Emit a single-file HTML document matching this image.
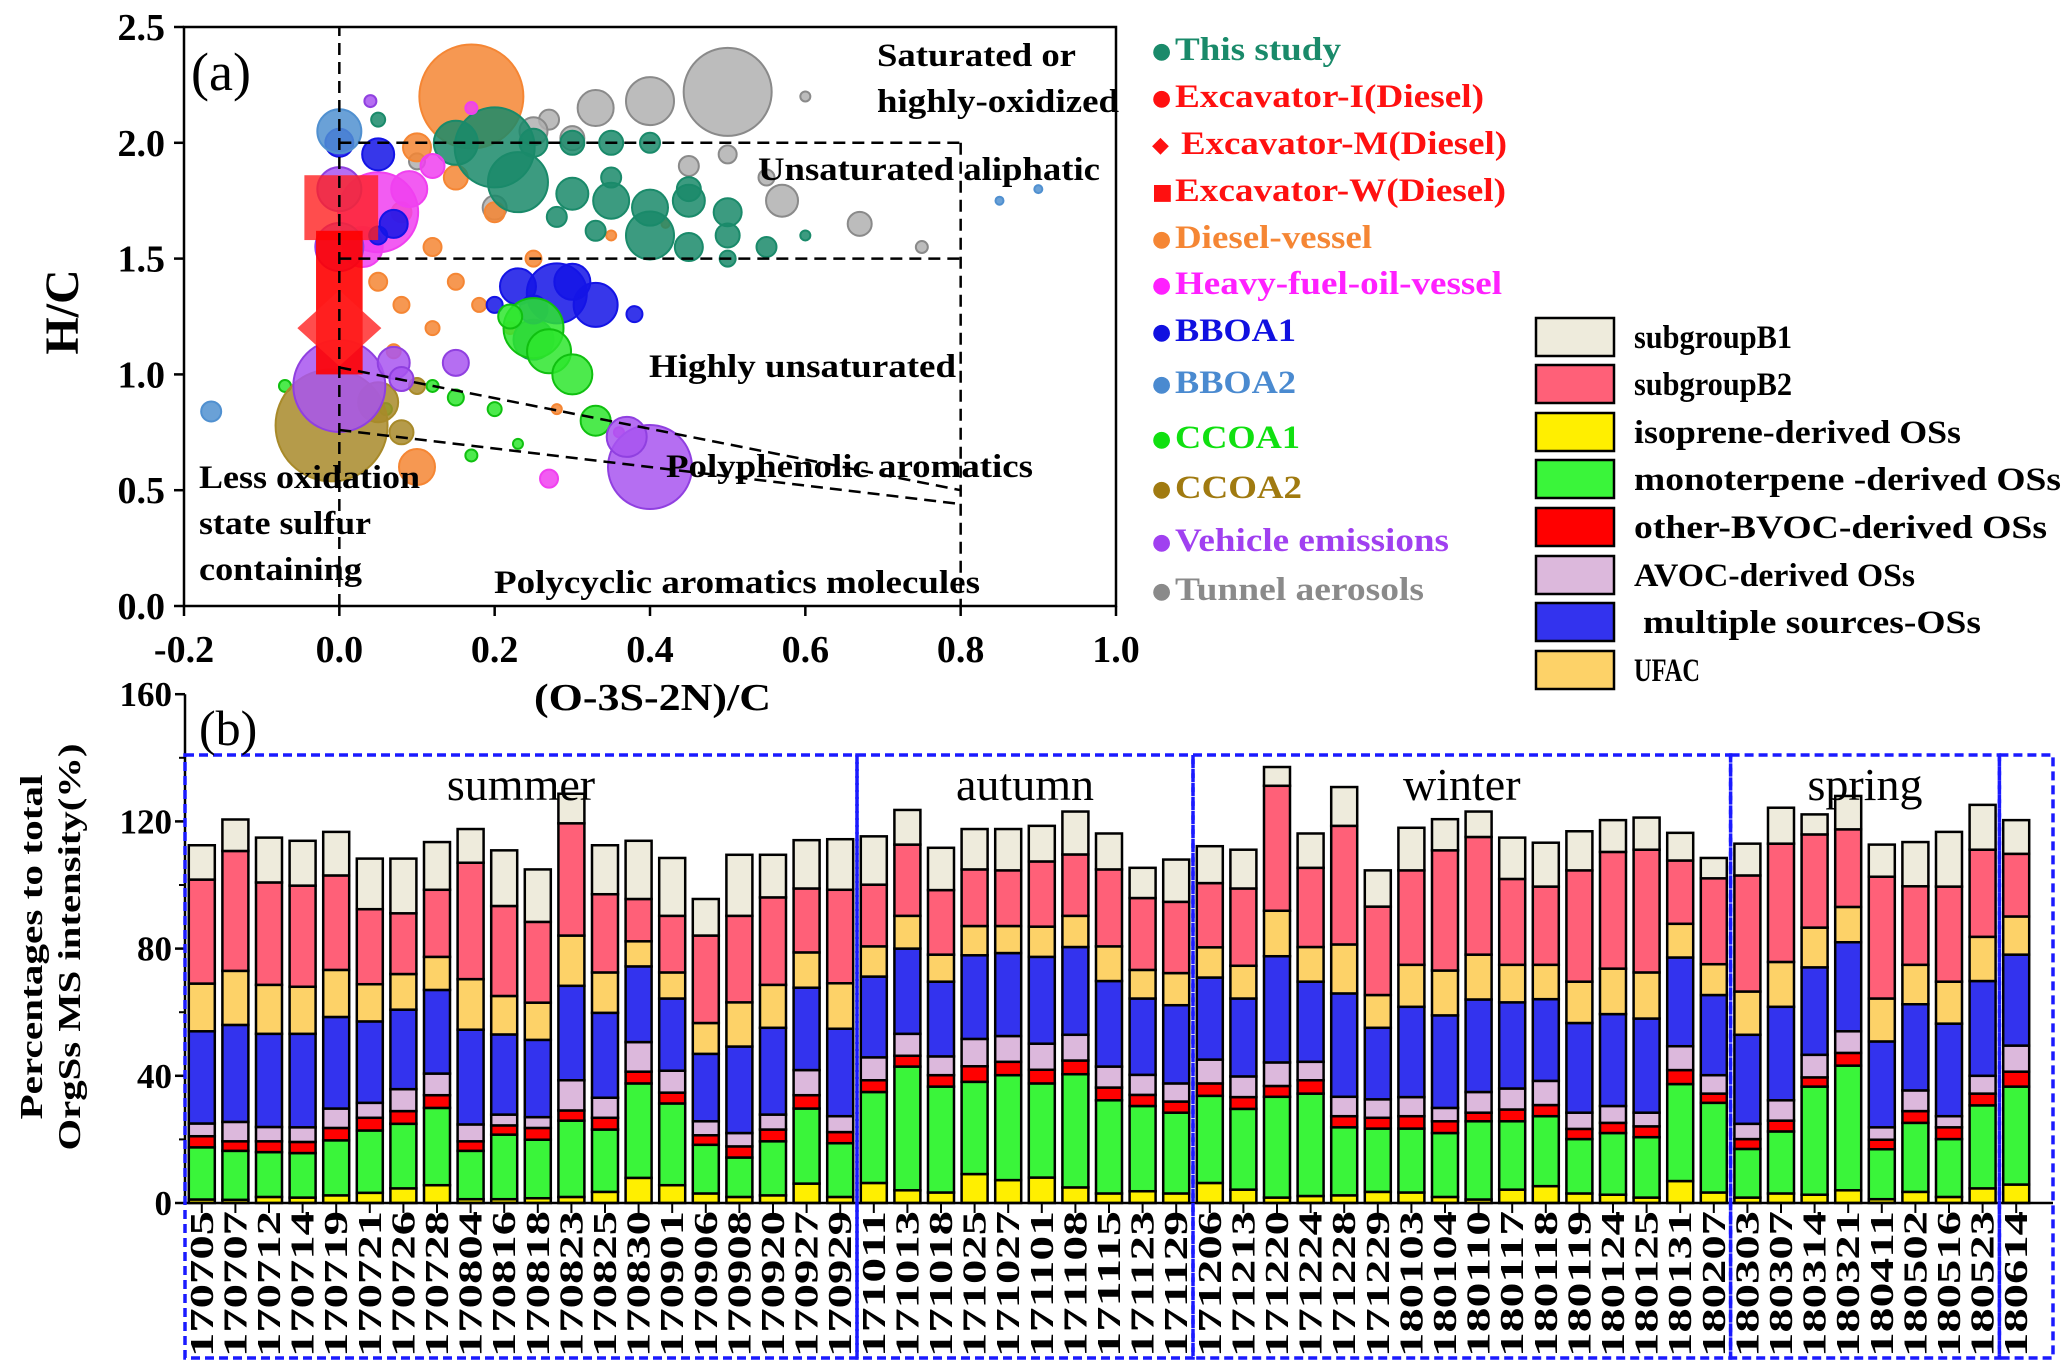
<!DOCTYPE html>
<html><head><meta charset="utf-8">
<style>
html,body{margin:0;padding:0;background:#fff;}
svg{display:block;font-family:"Liberation Serif",serif;}
</style></head>
<body>
<svg id="chart" width="2067" height="1366" viewBox="0 0 2067 1366" xmlns="http://www.w3.org/2000/svg">
<rect width="2067" height="1366" fill="#fff"/>
<g id="pa"></g>
<g id="pb"></g>
</svg>
<script>
// ---------- Panel b data ----------
const dates = ["170705","170707","170712","170714","170719","170721","170726","170728","170804","170816","170818","170823","170825","170830","170901","170906","170908","170920","170927","170929",
"171011","171013","171018","171025","171027","171101","171108","171115","171123","171129",
"171206","171213","171220","171224","171228","171229","180103","180104","180110","180117","180118","180119","180124","180125","180131","180207",
"180303","180307","180314","180321","180411","180502","180516","180523","180614"];
const isoprene = [1.1,1,1.9,1.7,2.4,3.2,4.6,5.6,1.2,1.2,1.5,1.9,3.5,7.9,5.6,3,1.9,2.4,6.1,1.9, 6.3,4,3.3,9.1,7.2,8,4.9,3,3.7,3, 6.3,4.2,1.7,2.2,2.4,3.5,3.3,1.9,1.1,4.2,5.3,3,2.6,1.7,6.9,3.3, 1.7,3,2.6,4,1.2,3.5,1.9,4.6,5.8];
const monoterpene = [16.4,15.4,14.1,14,17.3,19.6,20.3,24.3,15.2,20.3,18.4,24,19.6,29.7,25.7,15.3,12.4,17,23.6,16.9, 28.6,38.9,33.3,29,33,29.6,35.6,29.3,26.8,25.4, 27.4,25.4,31.7,32.2,21.4,19.9,20.1,20.1,24.6,21.5,22,17.1,19.4,19,30.5,28.2, 15.3,19.5,34,39.2,15.7,21.7,18.2,26.1,30.8];
const otherBVOC = [3.5,3,3.4,3.5,3.9,4,4,4,3,2.9,3.7,3.2,3.7,3.7,3.4,3,3.5,3.7,4.2,3.5, 3.7,3.4,3.6,4.9,4.2,4.3,4.3,4,3.5,3.5, 3.9,3.7,3.4,4.2,3.5,3.4,3.9,3.7,2.7,3.7,3.5,3.2,3.2,3.4,4.4,2.9, 3.1,3.4,2.9,4,3,3.7,3.7,3.7,4.7];
const avoc = [4,6.1,4.5,4.6,6.1,4.7,6.9,6.8,5.3,3.4,3.4,9.5,6.3,9.3,6.9,4.4,4.2,4.7,7.9,5, 7.2,6.9,5.9,8.6,8.1,8.2,8.1,6.6,6.3,5.7, 7.5,6.5,7.4,5.8,6.1,5.8,6,4.2,6.5,6.6,7.6,5.1,5.3,4.3,7.5,5.8, 4.8,6.4,7.1,6.8,3.9,6.5,3.5,5.6,8.2];
const multiple = [29,30.5,29.3,29.4,28.8,25.6,25,26.3,29.8,25.2,24.3,29.7,26.7,23.8,22.7,21.2,27.2,27.3,25.9,27.5, 25.4,26.8,23.5,26.3,26.1,27.3,27.6,26.9,24,24.6, 25.8,24.5,33.4,25.2,32.5,22.5,28.4,29.1,29.1,27.1,25.7,28.2,28.9,29.6,27.9,25.2, 28,29.4,27.5,28,27,27.1,29.1,29.8,28.6];
const ufac = [15,17,15.4,14.8,14.8,11.7,11.2,10.4,15.9,12.1,11.7,15.8,12.7,7.9,8.2,9.7,13.9,13.5,11.1,14.3, 9.5,10.3,8.5,9.2,8.5,9.5,9.8,10.9,9,10.1, 9.5,10.3,14.3,10.9,15.4,10.3,13.2,14.1,14.1,11.8,10.8,13,14.3,14.5,10.6,9.7, 13.6,14.1,12.5,11.1,13.5,12.4,13.2,13.9,12];
const subB2 = [32.7,37.7,32.2,31.8,29.7,23.6,19.1,21.1,36.6,28.3,25.4,35.3,24.6,13.3,17.8,27.5,27.2,27.5,20.1,29.4, 19.4,22.4,20.3,17.8,17.5,20.5,19.3,24.2,22.6,22.4, 20.2,24.3,39.3,24.9,37.3,27.8,29.7,37.8,37,27,24.6,35,36.7,38.6,19.9,27, 36.5,37.2,29.3,24.4,38.3,24.7,29.9,27.4,19.7];
const subB1 = [10.8,9.9,14.1,14.1,13.7,15.9,17.2,15,10.6,17.5,16.5,9.3,15.4,18.3,18.2,11.5,19.2,13.4,15.2,15.9, 15.2,10.9,13.3,12.7,13,11.2,13.5,11.3,9.5,13.3, 11.6,12.2,5.9,10.8,12.2,11.4,13.4,9.8,8,13,13.8,12.3,10,10.1,8.7,6.4, 10,11.3,6.3,10.5,10.1,13.9,17.2,14.1,10.6];
const yTicksB = [0,40,80,120,160];
const seasons = ["summer","autumn","winter","spring"];
const seasonStart = [0,20,30,46];
const seasonEnd = [20,30,46,54];

// ---------- Panel a data (x, y, radius px) ----------
const tunnelPts = [[0.5,2.22,44],[0.4,2.18,24],[0.33,2.15,18],[0.27,2.1,10],[0.25,2.05,14],[0.3,2.02,12],[0.5,1.95,9],[0.57,1.75,16],[0.67,1.65,12],[0.75,1.55,6],[0.2,1.72,12],[0.6,2.2,5],[0.55,1.85,8],[0.45,1.9,10],[0.1,1.92,8]];
const dieselPts = [[0.17,2.2,52],[0.1,1.98,14],[0.15,1.85,12],[0.2,1.7,10],[0.25,1.5,8],[0.08,1.7,10],[0.12,1.55,9],[0.15,1.4,8],[0.18,1.3,7],[0.22,1.2,6],[0.1,0.6,18],[0.05,1.4,9],[0.08,1.3,8],[0.12,1.2,7],[0.28,0.85,5],[0.35,1.6,5],[0.42,1.65,4],[0.07,1.1,7]];
const studyPts = [[0.2,1.98,40],[0.23,1.83,30],[0.15,2.0,22],[0.25,2.0,14],[0.3,2.0,12],[0.35,2.0,12],[0.4,2.0,10],[0.3,1.78,16],[0.35,1.75,18],[0.4,1.72,18],[0.45,1.75,16],[0.5,1.7,14],[0.4,1.6,24],[0.45,1.55,14],[0.5,1.6,12],[0.55,1.55,10],[0.33,1.62,10],[0.28,1.68,10],[0.5,1.5,8],[0.6,1.6,5],[0.25,1.15,20],[0.45,1.8,12],[0.05,2.1,7],[0.35,1.85,10]];
const bboa1Pts = [[0.28,1.35,30],[0.33,1.3,22],[0.23,1.38,18],[0.3,1.4,18],[0.25,1.28,14],[0.05,1.95,16],[0.07,1.65,14],[0.05,1.6,9],[0.38,1.26,8],[0,2.0,14],[0.2,1.3,8]];
const ccoa1Pts = [[0.25,1.2,30],[0.27,1.1,22],[0.3,1.0,20],[0.33,0.8,15],[0.22,1.25,12],[0.15,0.9,8],[0.2,0.85,7],[0.12,0.95,6],[-0.07,0.95,6],[0.06,0.85,6],[0.17,0.65,6],[0.23,0.7,5]];
const hfoPts = [[0.05,1.7,40],[0.03,1.55,20],[0.09,1.8,18],[0.12,1.9,12],[0.17,2.15,6],[0.27,0.55,9],[0.36,0.75,5]];
const vehiclePts = [[0.0,0.95,46],[0.4,0.6,42],[0.37,0.73,20],[0.07,1.05,16],[0.0,1.55,24],[0.0,1.8,22],[0.15,1.05,13],[0.08,0.98,12],[0.04,2.18,6]];
const ccoa2Pts = [[-0.01,0.78,56],[0.05,0.88,20],[0.1,0.95,8],[0.08,0.75,12]];
const bboa2Pts = [[-0.165,0.84,10],[0.0,2.05,22],[0.85,1.75,4],[0.9,1.8,4]];
const xTicksA = [-0.2,0,0.2,0.4,0.6,0.8,1.0];
const yTicksA = [0,0.5,1.0,1.5,2.0,2.5];

const NS = "http://www.w3.org/2000/svg";
function el(tag, attrs, parent, text){
  const e = document.createElementNS(NS, tag);
  for (const k in attrs) e.setAttribute(k, attrs[k]);
  if (text !== undefined) e.textContent = text;
  parent.appendChild(e);
  return e;
}
function fitW(t, w){ t.setAttribute('textLength', w); t.setAttribute('lengthAdjust','spacingAndGlyphs'); }
const pa = document.getElementById('pa');
const pb = document.getElementById('pb');

// ---------- Panel a ----------
const AX0=184, AX1=1116, AY0=606, AY1=27;
const ax = x => AX0 + (x+0.2)/1.2*(AX1-AX0);
const ay = y => AY0 - y/2.5*(AY0-AY1);

function drawSeries(pts, color, name, stroke){
  pts.forEach(p=>{
    const c = el('circle',{cx:ax(p[0]),cy:ay(p[1]),r:p[2],fill:color,'fill-opacity':0.85,stroke:stroke||color,'stroke-width':2},pa);
    
    
  });
}
drawSeries(tunnelPts,'#b0b0b0','tunnel-aerosols','#8a8a8a');
drawSeries(dieselPts,'#f58634','diesel-vessel');
drawSeries(studyPts,'#1a8a6a','this-study');
drawSeries(hfoPts,'#f040f0','heavy-fuel-oil-vessel');
drawSeries(bboa1Pts,'#1414e6','bboa1');
drawSeries(ccoa1Pts,'#2ee62e','ccoa1','#10c010');
drawSeries(ccoa2Pts,'#a88a2a','ccoa2');
drawSeries(vehiclePts,'#a855f0','vehicle-emissions','#9040e0');
drawSeries(bboa2Pts,'#5090d0','bboa2');
let ex = el('rect',{x:ax(-0.045),y:ay(1.86),width:ax(0.05)-ax(-0.045),height:ay(1.58)-ay(1.86),fill:'#ff2020','fill-opacity':0.8},pa);
 
ex = el('rect',{x:ax(-0.03),y:ay(1.62),width:ax(0.03)-ax(-0.03),height:ay(1.0)-ay(1.62),fill:'#ff0000','fill-opacity':0.9},pa);
 
const dcx=ax(0), dcy=ay(1.2);
ex = el('polygon',{points:`${dcx},${dcy-38} ${dcx+42},${dcy} ${dcx},${dcy+38} ${dcx-42},${dcy}`,fill:'#ff2020','fill-opacity':0.8},pa);
 

let fr = el('rect',{x:AX0,y:AY1,width:AX1-AX0,height:AY0-AY1,fill:'none',stroke:'#000','stroke-width':2.5},pa);
 
const dashes = [[0,0,0,2.5],[0,2.0,0.8,2.0],[0,1.5,0.8,1.5],[0.8,2.0,0.8,0],[0,1.03,0.8,0.5],[0,0.76,0.8,0.44]];
dashes.forEach((d,i)=>{
  const l = el('line',{x1:ax(d[0]),y1:ay(d[1]),x2:ax(d[2]),y2:ay(d[3]),stroke:'#000','stroke-width':2.5,'stroke-dasharray':'12,7'},pa);
  
  
});
xTicksA.forEach(v=>{
  el('line',{x1:ax(v),y1:AY0,x2:ax(v),y2:AY0+10,stroke:'#000','stroke-width':2.5},pa);
  const t = el('text',{x:ax(v),y:662,'text-anchor':'middle','font-size':38,'font-weight':'bold'},pa,v.toFixed(1));
   
});
yTicksA.forEach(v=>{
  el('line',{x1:AX0-10,y1:ay(v),x2:AX0,y2:ay(v),stroke:'#000','stroke-width':2.5},pa);
  const t = el('text',{x:165,y:ay(v)+13,'text-anchor':'end','font-size':38,'font-weight':'bold'},pa,v.toFixed(1));
   
});
let tt = el('text',{x:534,y:710,'font-size':38,'font-weight':'bold'},pa,'(O-3S-2N)/C');
 
fitW(tt,237);
tt = el('text',{x:0,y:0,'text-anchor':'middle','font-size':48,'font-weight':'bold',transform:'translate(78,312) rotate(-90)'},pa,'H/C');
 
const annos = [["Saturated or",877,66,199],["highly-oxidized",877,112,242],["Unsaturated aliphatic",758,180,342],["Highly unsaturated",649,377,307],["Polyphenolic aromatics",666,477,367],["Less oxidation",199,488,221],["state sulfur",199,534,172],["containing",199,580,163],["Polycyclic aromatics molecules",494,593,486]];
annos.forEach(a=>{
  const t = el('text',{x:a[1],y:a[2],'font-size':33,'font-weight':'bold'},pa,a[0]);
   
  fitW(t,a[3]);
});
tt = el('text',{x:191,y:90,'font-size':54},pa,'(a)');
 
const legA = [["●","This study","#1a8a6a"],["●","Excavator-I(Diesel)","#ff1010"],["◆","Excavator-M(Diesel)","#ff1010"],["■","Excavator-W(Diesel)","#ff1010"],["●","Diesel-vessel","#f58634"],["●","Heavy-fuel-oil-vessel","#ff20ff"],["●","BBOA1","#1010e0"],["●","BBOA2","#4a8ad0"],["●","CCOA1","#10e010"],["●","CCOA2","#a07a10"],["●","Vehicle emissions","#a040f0"],["●","Tunnel aerosols","#8a8a8a"]];
const legAW = [166,309,326,331,197,327,121,121,125,127,274,249];
const legAY = [49,96,143,190,237,283,330,382,437,487,540,589];
legA.forEach((l,i)=>{
  const d = el('text',{x:1152,y:legAY[i]+9,'font-size':22,'font-family':'DejaVu Sans',fill:l[2]},pa,l[0]);
   
  const t = el('text',{x:1175+(i==2?6:0),y:legAY[i]+11,'font-size':33,'font-weight':'bold',fill:l[2]},pa,l[1]);
   
  fitW(t,legAW[i]);
});

// ---------- Panel b ----------
const BY0=1203, BYU=3.18, BX0=185, BW=33.6;
const by = v => BY0 - v*BYU;
const bx = i => BX0 + (i+0.5)*BW;
const series = [isoprene, monoterpene, otherBVOC, avoc, multiple, ufac, subB2, subB1];
const colors = ['#ffef00','#3af53a','#ff0000','#dcb8dc','#3333ee','#fdd268','#ff6078','#eeebdc'];
const snames = ['isoprene','monoterpene','other-bvoc','avoc','multiple-sources','ufac','subgroup-b2','subgroup-b1'];
dates.forEach((d,i)=>{
  let cum = 0;
  series.forEach((s,k)=>{
    const v = s[i];
    const r = el('rect',{x:bx(i)-13,y:by(cum+v),width:26,height:v*BYU,fill:colors[k],stroke:'#000','stroke-width':2.5},pb);
    
    
    cum += v;
  });
  el('line',{x1:bx(i),y1:BY0,x2:bx(i),y2:BY0+10,stroke:'#000','stroke-width':2},pb);
  const t = el('text',{x:0,y:0,'text-anchor':'start','font-size':34,'font-weight':'bold',textLength:146,lengthAdjust:'spacingAndGlyphs',transform:`translate(${bx(i)+11},1357) rotate(-90)`},pb,d);
   
});
let axl = el('line',{x1:BX0,y1:BY0,x2:2053,y2:BY0,stroke:'#000','stroke-width':2.5},pb);
 
axl = el('line',{x1:BX0,y1:by(160),x2:BX0,y2:BY0,stroke:'#000','stroke-width':2.5},pb);
 
yTicksB.forEach(v=>{
  el('line',{x1:BX0-10,y1:by(v),x2:BX0,y2:by(v),stroke:'#000','stroke-width':2.5},pb);
  const t = el('text',{x:172,y:by(v)+12,'text-anchor':'end','font-size':35,'font-weight':'bold'},pb,String(v));
   
});
[20,60,100,140].forEach(v=>el('line',{x1:BX0-6,y1:by(v),x2:BX0,y2:by(v),stroke:'#000','stroke-width':2},pb));
seasons.forEach((s,k)=>{
  const x1 = BX0 + seasonStart[k]*BW, x2 = BX0 + seasonEnd[k]*BW;
  const r = el('rect',{x:x1,y:755,width:x2-x1,height:603,fill:'none',stroke:'#1a1aff','stroke-width':3.5,'stroke-dasharray':'9,5'},pb);
   
  const t = el('text',{x:(x1+x2)/2,y:800,'text-anchor':'middle','font-size':46},pb,s);
   
});
let lb = el('rect',{x:BX0+54*BW,y:755,width:2053-(BX0+54*BW),height:603,fill:'none',stroke:'#1a1aff','stroke-width':3.5,'stroke-dasharray':'9,5'},pb);
 
tt = el('text',{x:199,y:745,'font-size':50},pb,'(b)');
 
tt = el('text',{x:0,y:0,'text-anchor':'middle','font-size':32,'font-weight':'bold',transform:'translate(42,947) rotate(-90)'},pb,'Percentages to total');
 
fitW(tt,345);
tt = el('text',{x:0,y:0,'text-anchor':'middle','font-size':32,'font-weight':'bold',transform:'translate(80,947) rotate(-90)'},pb,'OrgSs MS intensity(%)');
 
fitW(tt,407);
const legB = ['subgroupB1','subgroupB2','isoprene-derived OSs','monoterpene -derived OSs','other-BVOC-derived OSs','AVOC-derived OSs','multiple sources-OSs','UFAC'];
const legBW = [158,158,327,427,413,281,338,66];
const legBX = [1634,1634,1634,1634,1634,1634,1643,1634];
const legBCol = ['#eeebdc','#ff6078','#ffef00','#3af53a','#ff0000','#dcb8dc','#3333ee','#fdd268'];
const legBY = [337,384,432,479,527,575,622,670];
legB.forEach((l,i)=>{
  const r = el('rect',{x:1536,y:legBY[i]-19,width:78,height:38,fill:legBCol[i],stroke:'#000','stroke-width':2.5},pb);
   
  const t = el('text',{x:legBX[i],y:legBY[i]+11,'font-size':33,'font-weight':'bold'},pb,l);
   
  fitW(t,legBW[i]);
});
</script>
</body></html>
